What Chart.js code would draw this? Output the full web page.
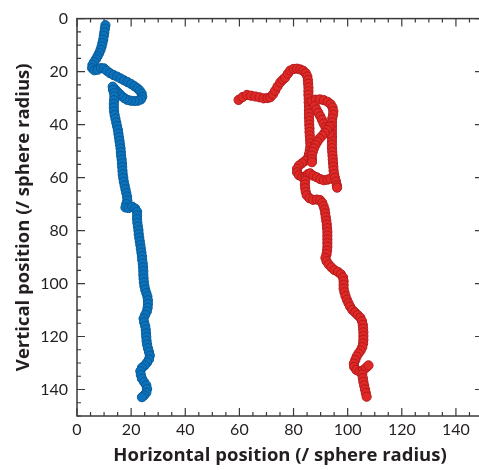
<!DOCTYPE html>
<html><head><meta charset="utf-8">
<script src="https://cdn.jsdelivr.net/npm/chart.js@4.4.0/dist/chart.umd.min.js"></script>
<style>
html,body{margin:0;padding:0;overflow:hidden;background:#fff;width:479px;height:470px}
#wrap{width:490px;height:470px}
</style></head><body>
<div id="wrap"><canvas id="c" width="490" height="470"></canvas></div>
<script>
const blueX=[10.5,10.3,10.1,9.9,9.7,9.4,9.1,8.7,8.2,7.6,7.0,6.3,5.7,5.6,6.4,7.6,8.9,10.0,11.0,12.2,13.5,14.8,16.1,17.4,18.7,20.0,21.2,22.3,23.2,23.9,24.1,23.6,22.5,21.2,19.9,18.7,17.6,16.6,15.7,14.8,14.0,13.2,13.3,13.7,13.8,13.7,13.6,13.6,13.7,13.9,14.2,14.5,14.8,15.1,15.3,15.5,15.7,15.9,16.1,16.2,16.3,16.5,16.6,16.7,16.8,16.9,17.1,17.3,17.6,17.9,18.2,18.5,18.6,18.2,17.9,19.1,20.4,21.5,22.2,22.2,22.2,22.3,22.5,22.7,22.8,23.0,23.2,23.4,23.6,23.8,24.0,24.1,24.3,24.4,24.5,24.5,24.6,24.7,24.9,25.2,25.6,26.0,26.2,26.2,26.1,25.8,25.2,24.6,24.8,25.2,25.4,25.5,25.6,25.7,25.9,26.2,26.6,26.9,26.6,25.9,25.0,24.0,23.4,23.6,24.0,24.8,25.6,25.9,25.6,24.8,24.0];
const blueY=[2.5,3.8,5.2,6.5,7.9,9.2,10.5,11.8,13.0,14.2,15.3,16.4,17.5,18.7,19.5,19.3,18.7,18.8,19.7,20.6,21.3,21.9,22.6,23.3,24.0,24.7,25.5,26.3,27.2,28.3,29.5,30.5,31.0,31.1,31.0,30.7,30.1,29.3,28.4,27.5,26.6,25.7,26.9,28.1,29.4,30.8,32.2,33.6,35.0,36.4,37.8,39.2,40.6,42.0,43.4,44.8,46.2,47.6,49.0,50.4,51.8,53.2,54.6,56.0,57.4,58.8,60.2,61.6,63.0,64.4,65.8,67.2,68.6,70.0,71.3,71.5,71.0,71.7,72.9,74.3,75.7,77.1,78.5,79.9,81.3,82.7,84.1,85.5,86.9,88.3,89.7,91.1,92.5,93.9,95.3,96.7,98.1,99.5,100.9,102.3,103.6,104.9,106.3,107.7,109.1,110.5,111.8,113.2,114.6,116.0,117.4,118.8,120.2,121.6,123.0,124.4,125.8,127.2,128.6,129.8,130.9,131.8,133.1,134.5,135.9,137.2,138.4,139.8,141.2,142.2,142.9];

const redX=[59.7,61.2,62.8,64.3,65.9,67.4,68.9,70.3,71.4,72.4,73.2,74.1,75.1,76.0,76.9,77.9,78.8,80.0,81.3,82.5,83.6,84.5,85.1,85.3,85.4,85.5,85.5,85.5,85.6,85.6,85.7,85.7,85.7,85.7,85.8,85.8,85.9,85.9,86.0,86.1,86.2,86.2,86.0,85.7,85.3,
84.3,83.1,82.0,81.3,81.3,82.0,83.2,84.4,85.3,86.1,87.3,88.6,89.9,91.2,92.5,93.6,
86.8,88.2,89.7,91.2,92.6,93.7,94.4,94.7,94.6,94.3,94.2,94.2,94.2,94.2,94.2,94.2,94.2,94.2,94.3,94.4,94.5,94.6,94.7,94.8,95.0,95.3,95.7,96.0,96.1,
87.8,88.5,89.2,89.9,90.5,91.1,91.8,92.5,93.3,
93.2,92.4,91.5,90.6,89.6,88.8,88.1,87.5,87.1,86.8,86.8,86.8,
84.3,84.2,84.3,84.5,84.9,85.9,87.2,88.6,89.8,90.6,91.1,91.5,91.7,91.9,92.1,92.3,92.4,92.5,92.5,92.5,92.5,92.5,92.4,92.2,91.8,92.2,93.0,94.0,95.1,96.4,97.5,98.3,98.5,98.5,98.5,98.8,99.2,99.7,100.3,100.9,101.7,102.7,103.7,104.7,105.3,105.6,105.7,105.8,105.8,105.8,105.7,105.4,104.8,104.0,103.3,102.8,102.3,102.4,103.2,104.4,105.6,106.8,107.7,105.4,105.6,105.8,106.1,106.4,106.7,107.0];
const redY=[30.7,29.6,28.8,29.1,29.4,29.7,30.1,30.0,29.7,28.6,27.2,25.6,24.1,23.1,22.3,20.8,19.6,19.0,18.9,19.2,19.7,20.6,21.8,23.2,24.6,26.0,27.4,28.8,30.2,31.6,33.0,34.4,35.8,37.2,38.6,40.0,41.4,42.8,44.2,45.6,47.0,48.4,49.8,51.2,52.6,
53.7,54.6,55.5,56.7,58.0,59.1,59.8,59.6,58.7,58.4,59.3,59.9,60.6,61.0,60.8,60.4,
31.2,30.6,30.5,30.8,31.4,32.3,33.5,34.9,36.3,37.7,39.1,40.5,41.9,43.3,44.7,46.1,47.5,48.9,50.3,51.7,53.1,54.5,55.9,57.3,58.7,60.1,61.5,62.9,63.8,
33.0,34.3,35.6,36.9,38.2,39.6,40.9,42.1,43.3,
40.8,42.0,43.1,44.2,45.3,46.5,47.7,49.0,50.3,51.7,53.1,54.2,
61.2,62.6,64.0,65.4,66.7,67.8,68.4,68.3,68.5,69.5,70.8,72.1,73.5,74.9,76.3,77.7,79.1,80.5,81.9,83.3,84.7,86.1,87.5,88.9,90.3,91.6,92.8,93.9,94.9,95.6,96.5,97.7,99.1,100.5,101.9,103.3,104.7,106.1,107.4,108.7,109.9,110.9,111.9,112.9,114.2,115.6,117.0,118.4,119.8,121.2,122.6,124.0,125.3,126.4,127.6,128.9,130.2,131.5,132.6,133.3,132.8,131.8,130.9,134.3,135.7,137.1,138.5,139.9,141.3,142.7];

const xTickValues=[0,20,40,60,80,100,120,140];
const yTickValues=[0,20,40,60,80,100,120,140];
const axisMin=0, axisMax=150, minorStep=5, majorStep=20;
const xTitle='Horizontal position (/ sphere radius)';
const yTitle='Vertical position (/ sphere radius)';

const toPts=(xs,ys)=>xs.map((v,i)=>({x:v,y:ys[i]}));
const txt='#231f20';
const frame={id:'frame',beforeDatasetsDraw(chart){
  const {ctx,chartArea:a,scales:{x,y}}=chart;
  ctx.save();
  ctx.strokeStyle='#3a3a3a';
  ctx.lineWidth=1.5;
  ctx.strokeRect(a.left,a.top,a.right-a.left,a.bottom-a.top);
  ctx.lineWidth=1.2;
  for(let v=axisMin; v<=axisMax; v+=minorStep){
    const L=(v%majorStep===0)?8:4;
    const px=x.getPixelForValue(v), py=y.getPixelForValue(v);
    ctx.beginPath();
    ctx.moveTo(px,a.bottom);ctx.lineTo(px,a.bottom-L);
    ctx.moveTo(px,a.top);ctx.lineTo(px,a.top+L);
    ctx.moveTo(a.left,py);ctx.lineTo(a.left+L,py);
    ctx.moveTo(a.right,py);ctx.lineTo(a.right-L,py);
    ctx.stroke();
  }
  ctx.restore();
}};

new Chart(document.getElementById('c'),{
  type:'scatter',
  data:{datasets:[
    {data:toPts(blueX,blueY),backgroundColor:'#0b72bb',borderColor:'#075a98',borderWidth:1,pointRadius:4.6},
    {data:toPts(redX,redY),backgroundColor:'#e02826',borderColor:'#b01b1b',borderWidth:1,pointRadius:4.6}
  ]},
  options:{
    responsive:false,animation:false,devicePixelRatio:1,
    layout:{padding:{top:11.5,right:7,left:0,bottom:0}},
    plugins:{legend:{display:false},tooltip:{enabled:false}},
    scales:{
      x:{type:'linear',min:axisMin,max:axisMax,
        afterBuildTicks:s=>{s.ticks=xTickValues.map(v=>({value:v}));},
        afterFit:s=>{s.height=54;},
        grid:{display:false,drawTicks:false},border:{display:false},
        ticks:{padding:4,color:txt,font:{family:'Lato',size:16}},
        title:{display:true,text:xTitle,color:txt,font:{family:'Open Sans',size:18.5,weight:'bold'},padding:{top:0,bottom:3}}},
      y:{type:'linear',reverse:true,min:axisMin,max:axisMax,
        afterBuildTicks:s=>{s.ticks=yTickValues.map(v=>({value:v}));},
        afterFit:s=>{s.width=77;},
        grid:{display:false,drawTicks:false},border:{display:false},
        ticks:{padding:9,color:txt,font:{family:'Lato',size:16}},
        title:{display:true,text:yTitle,color:txt,font:{family:'Open Sans',size:18.5,weight:'bold'},padding:{top:13,bottom:0}}}
    }
  },
  plugins:[frame]
});
</script></body></html>
